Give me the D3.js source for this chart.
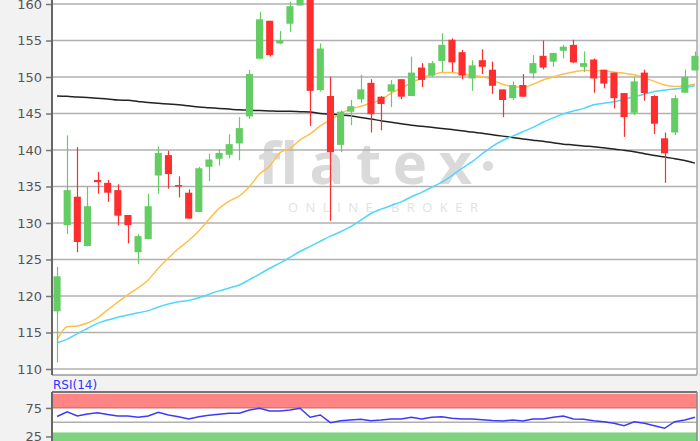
<!DOCTYPE html>
<html>
<head>
<meta charset="utf-8">
<script src="https://cdn.jsdelivr.net/npm/d3@7/dist/d3.min.js"></script>
<style>
html,body{margin:0;padding:0;background:#f2f2f2;}
svg{display:block;}
</style>
</head>
<body>
<svg id="chart" width="700" height="441"></svg>
<script>
// ---- data ----
const openV  = [117.9,129.7,133.6,126.85,135.9,135.5,134.5,131.1,126.0,127.8,136.5,139.3,135.2,134.15,131.5,137.7,138.8,139.35,140.9,144.6,152.5,157.7,154.6,157.3,159.8,162.0,148.2,147.4,140.7,145.25,146.95,149.2,147.3,148.0,149.7,147.4,151.3,150.2,152.2,155.1,153.4,149.8,152.3,151.0,148.3,147.1,148.9,150.5,152.9,152.1,153.6,154.4,151.4,152.4,151.0,150.6,147.8,145.1,150.6,147.4,141.6,142.4,147.85,150.9];
const highV  = [124.0,142.0,140.4,135.0,137.0,135.9,135.3,131.1,128.45,134.0,140.5,139.9,136.4,134.6,137.7,139.5,140.1,142.15,144.5,150.96,158.95,157.7,156.3,160.3,162.0,163.0,154.6,150.05,145.4,146.85,150.3,149.7,147.4,149.6,149.7,152.8,151.9,152.2,156.0,155.3,153.7,152.3,153.8,152.1,148.3,149.4,150.4,153.0,155.0,153.3,154.4,155.1,153.5,152.55,151.0,150.6,147.8,150.0,151.0,147.5,142.4,147.5,151.0,153.5];
const lowV   = [110.9,128.5,126.0,126.8,134.0,132.9,129.7,127.2,124.4,127.8,134.0,134.7,133.5,130.6,131.5,135.75,137.85,138.85,138.6,144.25,152.5,152.8,154.5,156.2,159.8,143.3,148.0,130.3,139.7,143.4,146.4,142.4,142.7,145.9,146.95,147.4,148.6,150.0,150.7,150.7,149.7,148.1,150.4,147.7,144.5,146.85,147.3,149.8,151.05,151.4,152.55,151.9,150.7,147.85,148.45,145.7,141.8,144.8,146.75,142.2,135.5,142.05,147.85,150.9];
const closeV = [122.7,134.5,127.4,132.3,135.6,134.15,131.0,129.7,128.2,132.3,139.6,136.7,135.0,130.6,137.5,138.7,139.6,140.8,143.0,150.4,157.9,153.0,155.0,159.7,161.5,148.1,153.9,139.7,145.25,146.0,148.3,144.9,146.3,149.0,147.3,150.6,149.6,151.9,154.4,152.0,150.2,151.6,151.4,148.8,146.85,148.9,147.3,151.9,151.3,153.3,154.15,152.0,151.9,149.8,149.1,147.1,144.5,149.4,147.8,143.6,139.55,147.1,150.0,152.9];
const maBlack  = [147.4,147.35,147.25,147.2,147.1,147.0,146.85,146.8,146.65,146.5,146.4,146.3,146.2,146.05,145.9,145.8,145.7,145.6,145.5,145.45,145.4,145.35,145.3,145.3,145.25,145.2,145.0,144.9,144.8,144.7,144.45,144.25,144.0,143.8,143.6,143.4,143.25,143.1,142.95,142.8,142.65,142.45,142.3,142.1,141.9,141.7,141.5,141.35,141.2,141.0,140.8,140.7,140.55,140.45,140.3,140.15,139.95,139.75,139.5,139.25,139.05,138.8,138.55,138.2];
const maYellow = [114.0,115.8,115.9,116.3,117.0,118.1,119.15,120.2,121.1,122.2,123.8,125.2,126.5,127.6,128.9,130.5,132.0,133.0,133.7,135.0,136.7,137.8,139.6,140.2,141.4,142.2,143.3,144.1,145.0,145.6,146.0,146.4,146.9,147.8,148.5,149.2,149.85,150.3,150.6,150.6,150.4,150.2,150.05,149.6,149.0,148.7,148.6,149.0,149.6,150.0,150.4,150.7,150.9,150.9,150.85,150.7,150.5,150.3,149.9,149.4,148.9,148.7,148.8,149.05];
const maCyan   = [113.6,114.1,114.85,115.55,116.25,116.7,117.1,117.4,117.7,118.0,118.5,118.9,119.2,119.4,119.75,120.25,120.7,121.1,121.5,122.25,123.0,123.8,124.5,125.3,126.1,126.8,127.5,128.2,128.8,129.5,130.4,131.3,131.9,132.4,132.9,133.6,134.2,134.9,135.6,136.5,137.5,138.4,139.5,140.5,141.3,141.9,142.5,143.1,143.8,144.4,144.95,145.35,145.7,146.2,146.4,146.6,146.95,147.3,147.65,148.0,148.2,148.35,148.55,148.85];
const rsiV = [60.0,68.4,60.9,64.4,66.7,63.5,60.9,60.9,58.6,60.9,67.4,62.6,59.6,55.6,59.6,62.1,63.9,65.6,65.6,71.4,74.4,69.6,69.6,71.4,74.4,58.6,62.6,49.1,52.6,53.9,55.1,52.6,53.9,55.6,55.6,58.6,55.6,58.6,59.6,56.8,55.6,55.6,54.4,53.0,52.1,53.9,52.1,55.6,55.6,58.6,60.9,55.6,55.1,52.6,50.9,48.1,43.9,50.9,48.1,43.9,39.3,50.9,53.9,58.6];
const priceTicks = [110,115,120,125,130,135,140,145,150,155,160];
const rsiTicks = [25,75];
const rsiGrid = [50];
const rsiLabel = "RSI(14)";
const wmMain = "flatex";
const wmSub = "ONLINE BROKER";

// ---- layout ----
const svg = d3.select("#chart");
const L = 52, R = 697, T = 0, B = 375;
const rT = 392, rB = 441;
const idx = d3.range(openV.length);

const x = d3.scaleBand().domain(idx).range([L, 700]).paddingInner(0.3).paddingOuter(0.15);
const xc = i => x(i) + x.bandwidth() / 2;
const y = d3.scaleLinear().domain([110, 160]).range([369, 4]);
const yr = d3.scaleLinear().domain([0, 100]).range([450.7, 393.7]);

// panels background
svg.append("rect").attr("x", L).attr("y", T).attr("width", R - L).attr("height", B - T).attr("fill", "#fff");
svg.append("rect").attr("x", L).attr("y", rT).attr("width", R - L).attr("height", rB - rT).attr("fill", "#fff");

svg.append("defs").append("clipPath").attr("id", "clipMain")
  .append("rect").attr("x", L).attr("y", T).attr("width", R - L + 2).attr("height", B - T);

// watermark
const wm = svg.append("g");
wm.append("text").attr("x", 258).attr("y", 184).text(wmMain)
  .attr("textLength", 214).attr("lengthAdjust", "spacing")
  .attr("font-family", "'Open Sans', sans-serif").attr("font-weight", 700).attr("font-size", 58)
  .attr("fill", "#dadada");
wm.append("circle").attr("cx", 488).attr("cy", 166).attr("r", 5).attr("fill", "#dadada");
wm.append("text").attr("x", 288).attr("y", 212).text(wmSub)
  .attr("textLength", 190).attr("lengthAdjust", "spacing")
  .attr("font-family", "'Open Sans', sans-serif").attr("font-size", 13)
  .attr("fill", "#e2e2e2");

// gridlines main
const yAxis = d3.axisLeft(y).tickValues(priceTicks).tickSize(6).tickPadding(4).tickFormat(d3.format("d"));
svg.append("g").selectAll("line").data(priceTicks).join("line")
  .attr("x1", L).attr("x2", R).attr("y1", d => y(d)).attr("y2", d => y(d))
  .attr("stroke", "#b0b0b0").attr("stroke-width", 1.5);

// frame main
svg.append("line").attr("x1", L).attr("x2", R).attr("y1", B).attr("y2", B).attr("stroke", "#999").attr("stroke-width", 1.5);
svg.append("line").attr("x1", R).attr("x2", R).attr("y1", T).attr("y2", B).attr("stroke", "#aaa").attr("stroke-width", 1.5);

// moving averages
const plotG = svg.append("g").attr("clip-path", "url(#clipMain)");
function maLine(arr, color) {
  const line = d3.line().x((d, i) => xc(i)).y(d => y(d)).curve(d3.curveMonotoneX);
  plotG.append("path").datum(arr).attr("d", line).attr("fill", "none")
    .attr("stroke", color).attr("stroke-width", 1.5);
}
maLine(maBlack, "#222");
maLine(maYellow, "#ffc04a");
maLine(maCyan, "#4fd6ff");

// candles
const up = "#63cc63", down = "#ff2d2d";
const cg = plotG.append("g").selectAll("g").data(idx).join("g");
cg.append("line")
  .attr("x1", i => Math.round(xc(i)) + 0.5).attr("x2", i => Math.round(xc(i)) + 0.5)
  .attr("y1", i => y(highV[i])).attr("y2", i => y(lowV[i]))
  .attr("stroke", i => closeV[i] >= openV[i] ? up : down).attr("stroke-width", 1.2);
cg.append("rect")
  .attr("x", i => x(i)).attr("width", x.bandwidth())
  .attr("y", i => y(Math.max(openV[i], closeV[i])))
  .attr("height", i => Math.max(1.5, Math.abs(y(openV[i]) - y(closeV[i]))))
  .attr("fill", i => closeV[i] >= openV[i] ? up : down);

// y axis main
const ax = svg.append("g").attr("transform", `translate(${L},0)`).call(yAxis);
ax.select(".domain").remove();
ax.selectAll(".tick line").attr("stroke", "#777").attr("stroke-width", 1.5);
ax.selectAll("text").attr("font-family", "'DejaVu Sans', sans-serif").attr("font-size", 13).attr("fill", "#555");
svg.append("line").attr("x1", L).attr("x2", L).attr("y1", T).attr("y2", B).attr("stroke", "#666").attr("stroke-width", 2);

// RSI label
svg.append("text").attr("x", L + 1).attr("y", 389).text(rsiLabel)
  .attr("font-family", "'DejaVu Sans', sans-serif").attr("font-size", 12).attr("fill", "#3333ff");

// RSI panel
svg.append("rect").attr("x", L).attr("y", yr(100)).attr("width", R - L).attr("height", yr(75) - yr(100)).attr("fill", "#ff8585");
svg.append("rect").attr("x", L).attr("y", yr(32)).attr("width", R - L).attr("height", rB - yr(32)).attr("fill", "#7fd27f");
svg.append("line").attr("x1", L).attr("x2", R).attr("y1", yr(75)).attr("y2", yr(75)).attr("stroke", "#c06060").attr("stroke-width", 1);
svg.append("g").selectAll("line").data(rsiGrid).join("line")
  .attr("x1", L).attr("x2", R).attr("y1", d => yr(d)).attr("y2", d => yr(d))
  .attr("stroke", "#b0b0b0").attr("stroke-width", 1.5);
svg.append("line").attr("x1", L).attr("x2", R).attr("y1", rT).attr("y2", rT).attr("stroke", "#777").attr("stroke-width", 2);
svg.append("line").attr("x1", R).attr("x2", R).attr("y1", rT).attr("y2", rB).attr("stroke", "#888").attr("stroke-width", 1.5);

const rsiLine = d3.line().x((d, i) => xc(i)).y(d => yr(d));
svg.append("path").datum(rsiV).attr("d", rsiLine).attr("fill", "none").attr("stroke", "#3a3aff").attr("stroke-width", 1.5);

const rAxis = d3.axisLeft(yr).tickValues(rsiTicks).tickSize(6).tickPadding(4);
const rax = svg.append("g").attr("transform", `translate(${L},0)`).call(rAxis);
rax.select(".domain").remove();
rax.selectAll(".tick line").attr("stroke", "#777").attr("stroke-width", 1.5);
rax.selectAll("text").attr("font-family", "'DejaVu Sans', sans-serif").attr("font-size", 13).attr("fill", "#555");
svg.append("line").attr("x1", L).attr("x2", L).attr("y1", rT).attr("y2", rB).attr("stroke", "#666").attr("stroke-width", 2);
</script>
</body>
</html>
